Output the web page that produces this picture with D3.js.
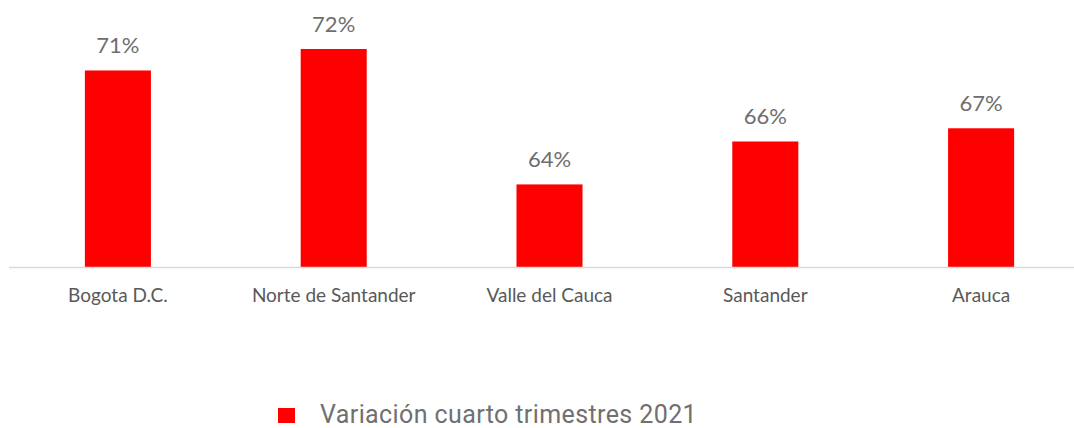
<!DOCTYPE html>
<html>
<head>
<meta charset="utf-8">
<script src="https://cdn.jsdelivr.net/npm/d3@7"></script>
<style>
  body { margin: 0; background: #fff; }
  svg { display: block; }
</style>
</head>
<body>
<svg id="chart" width="1074" height="428"></svg>
<script>
// departamentos y variacion (%)
var categories = ["Bogota D.C.", "Norte de Santander", "Valle del Cauca", "Santander", "Arauca"]
var values = [70.7, 72.0, 63.8, 66.4, 67.2]
var seriesName = "Variación cuarto trimestres 2021"

var width = 1074, height = 428
var baseY = 267

var svg = d3.select('#chart')

var x = d3.scaleBand()
	.domain(categories)
	.range([10, 1089])
	.paddingInner(0.694)
	.paddingOuter(0.347)

var y = d3.scaleLinear()
	.domain([58.8, 72])
	.range([baseY, 49])

// bars
svg.selectAll('rect.bar')
	.data(values)
	.enter().append('rect')
	.attr('class', 'bar')
	.attr('x', function(d, i){ return x(categories[i]) })
	.attr('y', function(d){ return y(d) })
	.attr('width', x.bandwidth())
	.attr('height', function(d){ return baseY - y(d) })
	.attr('fill', '#ff0000')

// value labels
svg.selectAll('text.val')
	.data(values)
	.enter().append('text')
	.attr('class', 'val')
	.attr('x', function(d, i){ return x(categories[i]) + x.bandwidth()/2 })
	.attr('y', function(d){ return y(d) - 17 })
	.attr('text-anchor', 'middle')
	.style('font-family', 'Lato, sans-serif')
	.style('font-size', '22px')
	.style('fill', '#6e6e6e')
	.text(function(d){ return Math.round(d) + '%' })

// x axis
var xAxis = d3.axisBottom(x).tickSize(0).tickPadding(22)
var gx = svg.append('g')
	.attr('transform', 'translate(0,' + baseY + ')')
	.call(xAxis)
gx.select('.domain').remove()
gx.append('line')
	.attr('x1', 9).attr('x2', width)
	.attr('y1', 0.5).attr('y2', 0.5)
	.attr('stroke', '#d9d9d9')
	.attr('stroke-width', 1.5)
gx.selectAll('text')
	.style('font-family', 'Lato, sans-serif')
	.style('font-size', '19px')
	.style('fill', '#595959')

// legend
var legend = svg.append('g').attr('transform', 'translate(278,408)')
legend.append('rect')
	.attr('width', 17).attr('height', 15)
	.attr('fill', '#ff0000')
legend.append('text')
	.attr('x', 42).attr('y', 15)
	.style('font-family', 'Roboto, sans-serif')
	.style('font-size', '25px')
	.style('letter-spacing', '0.4px')
	.style('fill', '#707070')
	.text(seriesName)
</script>
</body>
</html>
